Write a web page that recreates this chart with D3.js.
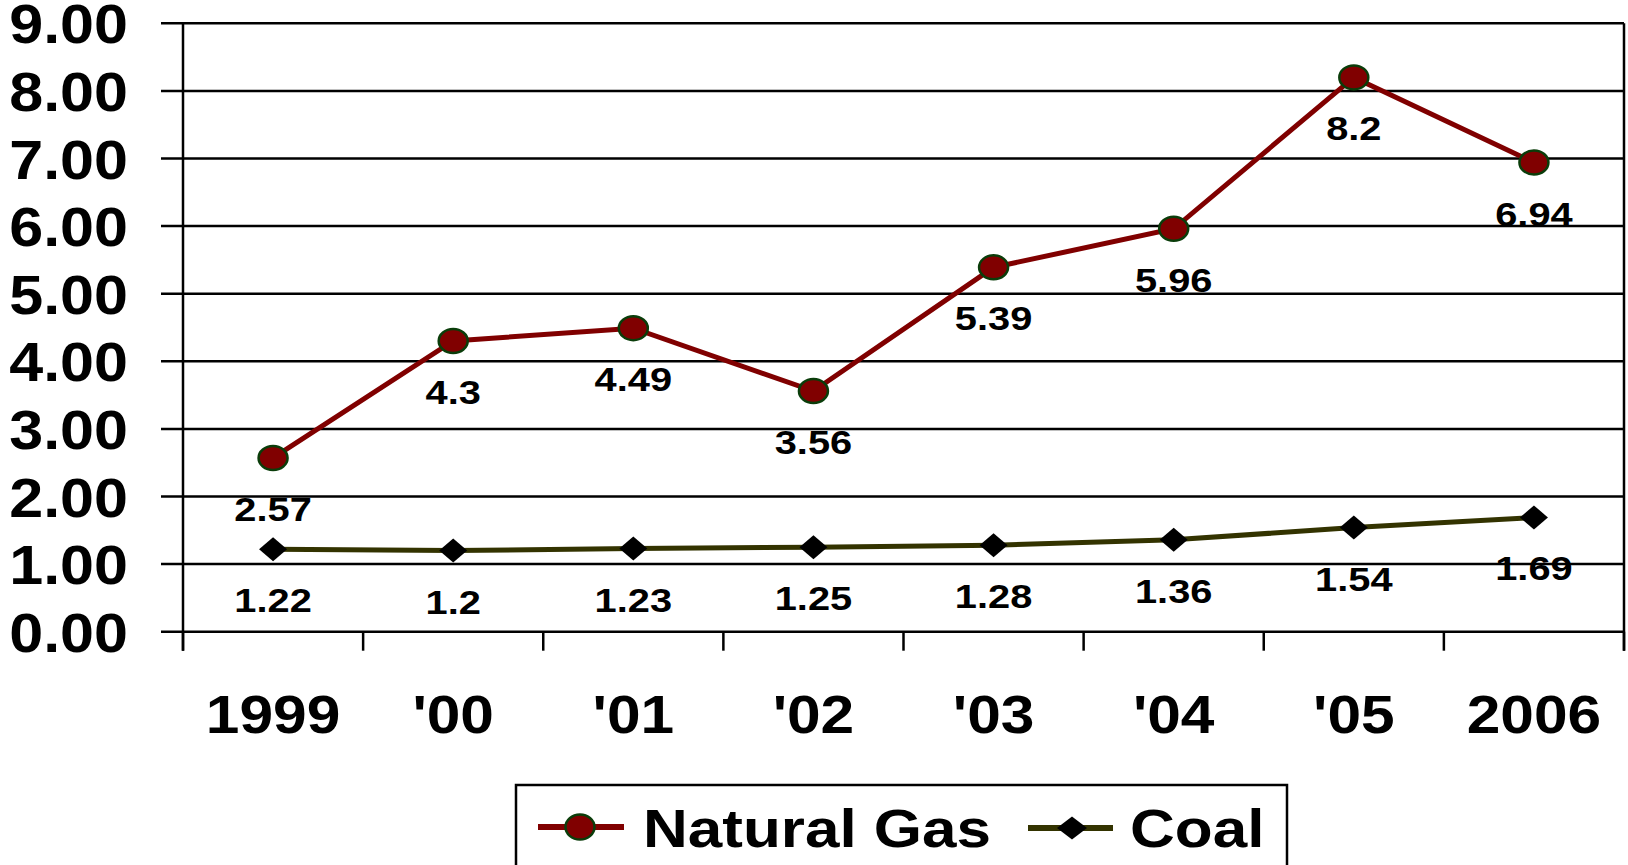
<!DOCTYPE html>
<html>
<head>
<meta charset="utf-8">
<script src="https://cdn.jsdelivr.net/npm/d3@7"></script>
<style>
  html, body { margin: 0; padding: 0; background: #fff; }
  svg { display: block; }
  text { font-family: "Liberation Sans", Arial, sans-serif; font-weight: bold; fill: #000; }
</style>
</head>
<body>
<svg id="chart" width="1628" height="865"></svg>
<script>
const categories = ["1999", "'00", "'01", "'02", "'03", "'04", "'05", "2006"];
const gasValues = [2.57, 4.3, 4.49, 3.56, 5.39, 5.96, 8.2, 6.94];
const coalValues = [1.22, 1.2, 1.23, 1.25, 1.28, 1.36, 1.54, 1.69];
const yTicks = [0, 1, 2, 3, 4, 5, 6, 7, 8, 9];
const seriesNames = ["Natural Gas", "Coal"];

(function () {
const svg = d3.select("#chart");
const pL = 183, pR = 1624, pT = 23.3, pB = 631.7;

const x = d3.scaleBand().domain(categories).range([pL, pR]).paddingInner(0).paddingOuter(0);
const y = d3.scaleLinear().domain([0, 9]).range([pB, pT]);
const cx = c => x(c) + x.bandwidth() / 2;

// gridlines
svg.append("g").selectAll("line").data(yTicks).join("line")
  .attr("x1", pL - 22).attr("x2", pR)
  .attr("y1", d => y(d)).attr("y2", d => y(d))
  .attr("stroke", "#000").attr("stroke-width", 2.5);

// y axis line
svg.append("line").attr("x1", pL).attr("x2", pL).attr("y1", pT).attr("y2", pB + 19)
  .attr("stroke", "#000").attr("stroke-width", 2.5);
// right border
svg.append("line").attr("x1", pR).attr("x2", pR).attr("y1", pT).attr("y2", pB + 19)
  .attr("stroke", "#000").attr("stroke-width", 2.5);

// x ticks at band boundaries
const bounds = categories.map(c => x(c)).concat([pR]);
svg.append("g").selectAll("line").data(bounds).join("line")
  .attr("x1", d => d).attr("x2", d => d)
  .attr("y1", pB).attr("y2", pB + 19)
  .attr("stroke", "#000").attr("stroke-width", 2.5);

// y tick labels
const fmt = d3.format(".2f");
svg.append("g").selectAll("text").data(yTicks).join("text")
  .attr("transform", d => `translate(128,${y(d) + 20}) scale(1.11,1)`)
  .attr("text-anchor", "end")
  .style("font-size", "55px")
  .text(d => fmt(d));

// x labels
svg.append("g").selectAll("text").data(categories).join("text")
  .attr("transform", d => `translate(${cx(d)},733) scale(1.14,1)`)
  .attr("text-anchor", "middle")
  .style("font-size", "53px")
  .text(d => d);

const gasData = categories.map((c, i) => ({c, v: gasValues[i]}));
const coalData = categories.map((c, i) => ({c, v: coalValues[i]}));
const line = d3.line().x(d => cx(d.c)).y(d => y(d.v));

// coal line
svg.append("path").datum(coalData).attr("d", line)
  .attr("fill", "none").attr("stroke", "#333300").attr("stroke-width", 5);
// gas line
svg.append("path").datum(gasData).attr("d", line)
  .attr("fill", "none").attr("stroke", "#800000").attr("stroke-width", 5);

const diamond = (w, h) => `M0,${-h/2}L${w/2},0L0,${h/2}L${-w/2},0Z`;

// coal markers
svg.append("g").selectAll("path").data(coalData).join("path")
  .attr("transform", d => `translate(${cx(d.c)},${y(d.v)})`)
  .attr("d", diamond(28, 24)).attr("fill", "#000");

// gas markers
svg.append("g").selectAll("ellipse").data(gasData).join("ellipse")
  .attr("cx", d => cx(d.c)).attr("cy", d => y(d.v))
  .attr("rx", 14.5).attr("ry", 12)
  .attr("fill", "#800000").attr("stroke", "#0a3d0a").attr("stroke-width", 2.5);

// data labels
const labelOff = 63;
svg.append("g").selectAll("text").data(gasData).join("text")
  .attr("transform", d => `translate(${cx(d.c)},${y(d.v) + labelOff}) scale(1.17,1)`)
  .attr("text-anchor", "middle").style("font-size", "34px")
  .text(d => String(d.v));
svg.append("g").selectAll("text").data(coalData).join("text")
  .attr("transform", d => `translate(${cx(d.c)},${y(d.v) + labelOff}) scale(1.17,1)`)
  .attr("text-anchor", "middle").style("font-size", "34px")
  .text(d => String(d.v));

// legend
const lg = svg.append("g");
lg.append("rect").attr("x", 516).attr("y", 785).attr("width", 771).attr("height", 120)
  .attr("fill", "#fff").attr("stroke", "#000").attr("stroke-width", 2.5);
lg.append("line").attr("x1", 538).attr("x2", 624).attr("y1", 827).attr("y2", 827)
  .attr("stroke", "#800000").attr("stroke-width", 6);
lg.append("ellipse").attr("cx", 580).attr("cy", 827).attr("rx", 14.5).attr("ry", 12.5)
  .attr("fill", "#800000").attr("stroke", "#0a3d0a").attr("stroke-width", 2.5);
lg.append("text").attr("transform", "translate(643,847) scale(1.17,1)")
  .style("font-size", "53px").text(seriesNames[0]);
lg.append("line").attr("x1", 1028).attr("x2", 1113).attr("y1", 828).attr("y2", 828)
  .attr("stroke", "#333300").attr("stroke-width", 6);
lg.append("path").attr("transform", "translate(1072,828)").attr("d", diamond(30, 23)).attr("fill", "#000");
lg.append("text").attr("transform", "translate(1130,847) scale(1.17,1)")
  .style("font-size", "53px").text(seriesNames[1]);
})();
</script>
</body>
</html>
